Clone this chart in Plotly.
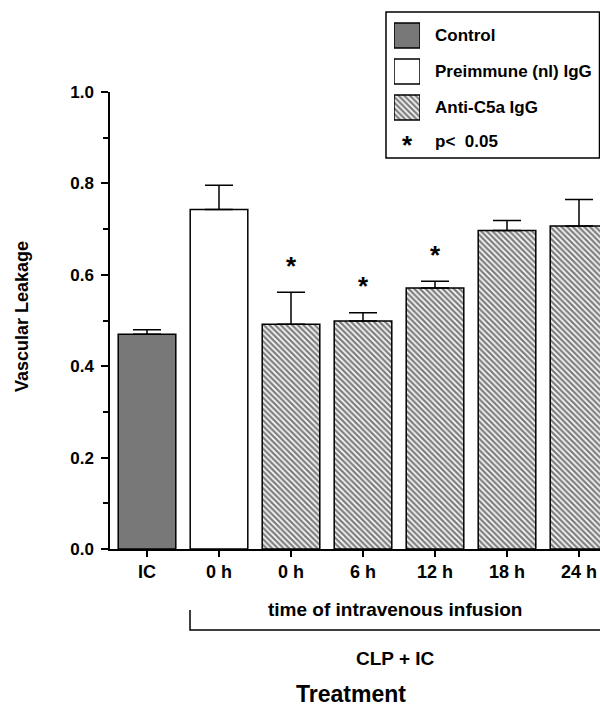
import plotly.graph_objects as go

# ---- data ----
tick_labels = ["IC", "0 h", "0 h", "6 h", "12 h", "18 h", "24 h"]
control_x = [0]
control_val = [0.470]
control_err = [0.010]
preimm_x = [1]
preimm_val = [0.743]
preimm_err = [0.053]
anti_x = [2, 3, 4, 5, 6]
anti_val = [0.492, 0.499, 0.571, 0.697, 0.707]
anti_err = [0.070, 0.018, 0.015, 0.022, 0.058]
sig_x = [2, 3, 4]          # p < 0.05
legend_names = ["Control", "Preimmune (nl) IgG", "Anti-C5a IgG"]

W, H = 600, 706
L, T, B = 110, 92, 549


def px(x):
    return x / W


def py(y):
    return 1 - y / H


FONT = "Liberation Sans, Arial, Helvetica, sans-serif"
GRAY = "#787878"
HATCH = dict(shape="\\", fgcolor="black", bgcolor="white", size=4, solidity=0.6)
err_style = dict(type="data", symmetric=False, thickness=1.5, width=14, color="black")

fig = go.Figure()
fig.add_trace(go.Bar(x=control_x, y=control_val, width=0.8,
                     marker=dict(color=GRAY, line=dict(color="black", width=1.5)),
                     error_y=dict(array=control_err, arrayminus=[0] * len(control_err), **err_style),
                     showlegend=False))
fig.add_trace(go.Bar(x=preimm_x, y=preimm_val, width=0.8,
                     marker=dict(color="white", line=dict(color="black", width=1.5)),
                     error_y=dict(array=preimm_err, arrayminus=[0] * len(preimm_err), **err_style),
                     showlegend=False))
fig.add_trace(go.Bar(x=anti_x, y=anti_val, width=0.8,
                     marker=dict(color="white", pattern=HATCH, line=dict(color="black", width=1.5)),
                     error_y=dict(array=anti_err, arrayminus=[0] * len(anti_err), **err_style),
                     showlegend=False))

# significance asterisks above error bars
sig_y = []
for sx in sig_x:
    i = anti_x.index(sx)
    sig_y.append(anti_val[i] + anti_err[i] + 0.052)
fig.add_trace(go.Scatter(x=sig_x, y=sig_y, mode="text", text=["*"] * len(sig_x),
                         textposition="middle center",
                         textfont=dict(family=FONT, size=26, color="black", weight="bold"),
                         showlegend=False, cliponaxis=False))

# legend swatches as small bars in an auxiliary axis
fig.add_trace(go.Bar(y=[0], x=[1], orientation="h", width=0.7, xaxis="x2", yaxis="y2",
                     marker=dict(color=GRAY, line=dict(color="black", width=1.5)), showlegend=False))
fig.add_trace(go.Bar(y=[1], x=[1], orientation="h", width=0.7, xaxis="x2", yaxis="y2",
                     marker=dict(color="white", line=dict(color="black", width=1.5)), showlegend=False))
fig.add_trace(go.Bar(y=[2], x=[1], orientation="h", width=0.7, xaxis="x2", yaxis="y2",
                     marker=dict(color="white", pattern=HATCH, line=dict(color="black", width=1.5)),
                     showlegend=False))

row_px = [35.5, 71.5, 107.5, 141]
annotations = []
for name, ry in zip(legend_names + ["p<  0.05"], row_px):
    annotations.append(dict(x=px(433), y=py(ry), xref="paper", yref="paper", text=name,
                            showarrow=False, xanchor="left", yanchor="middle",
                            font=dict(family=FONT, size=17, color="black", weight="bold")))
annotations.append(dict(x=px(407), y=py(row_px[3] + 4), xref="paper", yref="paper", text="*",
                        showarrow=False, xanchor="center", yanchor="middle",
                        font=dict(family=FONT, size=26, color="black", weight="bold")))

annotations += [
    dict(x=px(22), y=py(317), xref="paper", yref="paper", text="Vascular Leakage", textangle=-90,
         xanchor="center", yanchor="middle",
         showarrow=False, font=dict(family=FONT, size=18, color="black", weight="bold")),
    dict(x=px(395), y=py(609), xref="paper", yref="paper", text="time of intravenous infusion",
         xanchor="center", yanchor="middle",
         showarrow=False, font=dict(family=FONT, size=19, color="black", weight="bold")),
    dict(x=px(395), y=py(658), xref="paper", yref="paper", text="CLP + IC",
         xanchor="center", yanchor="middle",
         showarrow=False, font=dict(family=FONT, size=19, color="black", weight="bold")),
    dict(x=px(351), y=py(694), xref="paper", yref="paper", text="Treatment",
         xanchor="center", yanchor="middle",
         showarrow=False, font=dict(family=FONT, size=23, color="black", weight="bold")),
]

shapes = [
    dict(type="rect", xref="paper", yref="paper", x0=px(386), x1=px(599.5), y0=py(158), y1=py(12),
         line=dict(color="black", width=1.5), fillcolor="rgba(0,0,0,0)"),
    dict(type="path", xref="paper", yref="paper",
         path=f"M {px(190)},{py(610)} L {px(190)},{py(630)} L {px(602)},{py(630)}",
         line=dict(color="black", width=1.5)),
]

cat_px = 72
x0 = -(147 - L) / cat_px
x1 = x0 + (W - L) / cat_px

fig.update_layout(
    width=W, height=H, margin=dict(l=0, r=0, t=0, b=0, autoexpand=False),
    paper_bgcolor="white", plot_bgcolor="white",
    barmode="overlay", showlegend=False,
    annotations=annotations, shapes=shapes,
    xaxis=dict(domain=[px(L), 1.0], range=[x0, x1], tickvals=list(range(len(tick_labels))),
               ticktext=tick_labels, anchor="y",
               showline=True, linecolor="black", linewidth=1.5, ticks="outside", ticklen=6,
               tickwidth=1.5, tickcolor="black", showgrid=False, zeroline=False,
               tickfont=dict(family=FONT, size=18, color="black", weight="bold")),
    yaxis=dict(domain=[py(B), py(T)], range=[0, 1.0], tickvals=[0, 0.2, 0.4, 0.6, 0.8, 1.0],
               ticktext=["0.0", "0.2", "0.4", "0.6", "0.8", "1.0"], anchor="x",
               showline=True, linecolor="black", linewidth=1.5, ticks="outside", ticklen=7,
               tickwidth=1.5, tickcolor="black", showgrid=False, zeroline=False,
               ticklabelstandoff=4,
               minor=dict(tickvals=[0.1, 0.3, 0.5, 0.7, 0.9], ticks="outside", ticklen=5,
                          tickwidth=1.5, tickcolor="black", showgrid=False),
               tickfont=dict(family=FONT, size=17, color="black", weight="bold")),
    xaxis2=dict(domain=[px(394), px(420)], range=[0, 1], visible=False, anchor="y2", fixedrange=True),
    yaxis2=dict(domain=[py(125.5), py(17.5)], range=[2.5, -0.5], visible=False, anchor="x2",
                fixedrange=True),
)

fig.write_html("out.html")
